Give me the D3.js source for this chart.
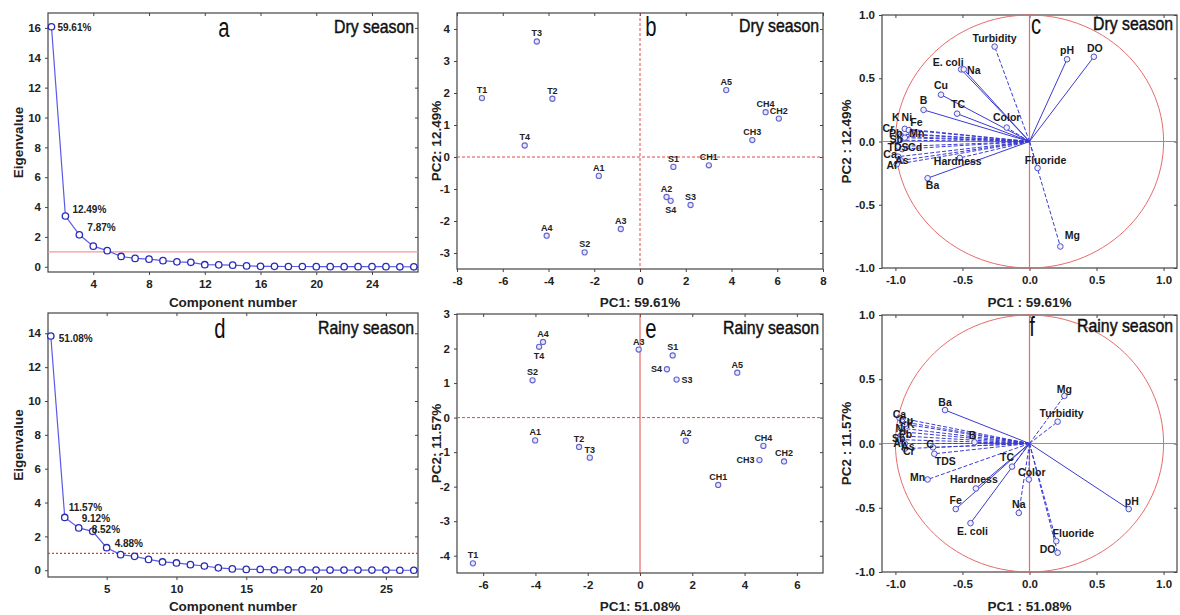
<!DOCTYPE html>
<html><head><meta charset="utf-8">
<script src="https://cdn.jsdelivr.net/npm/d3@7"></script>
<style>
body{margin:0;background:#fff}
svg{display:block}
text{font-family:"Liberation Sans",Arial,sans-serif}
</style>
</head><body>
<svg id="chart" width="1180" height="615"></svg>
<script>
// ---------------- DATA ----------------
const components = [1,2,3,4,5,6,7,8,9,10,11,12,13,14,15,16,17,18,19,20,21,22,23,24,25,26,27];
const dryEigen   = [16.08,3.40,2.14,1.38,1.08,0.69,0.56,0.51,0.41,0.33,0.30,0.14,0.13,0.11,0.06,0.03,0.03,0.02,0.02,0.01,0.01,0.01,0.01,0.01,0.01,0.00,0.00];
const rainyEigen = [13.84,3.12,2.50,2.30,1.33,0.92,0.82,0.64,0.49,0.43,0.33,0.25,0.14,0.08,0.05,0.05,0.02,0.02,0.02,0.01,0.01,0.01,0.01,0.01,0.01,0.00,0.00];
const dryExplained   = ["59.61%","12.49%","7.87%"];
const rainyExplained = ["51.08%","11.57%","9.12%","8.52%","4.88%"];

const sites    = ["T1","T2","T3","T4","A1","A2","A3","A4","A5","S1","S2","S3","S4","CH1","CH2","CH3","CH4"];
const dryPC1   = [-6.91,-3.83,-4.51,-5.04,-1.80,1.16,-0.84,-4.08,3.77,1.46,-2.42,2.21,1.34,3.01,6.07,4.91,5.49];
const dryPC2   = [1.84,1.82,3.61,0.36,-0.59,-1.25,-2.25,-2.46,2.09,-0.31,-2.98,-1.50,-1.37,-0.26,1.20,0.53,1.40];
const rainyPC1 = [-6.39,-2.33,-1.92,-3.86,-4.01,1.75,-0.05,-3.71,3.72,1.25,-4.11,1.40,1.03,2.99,5.51,4.57,4.72];
const rainyPC2 = [-4.22,-0.85,-1.16,2.05,-0.66,-0.67,1.97,2.19,1.30,1.80,1.08,1.10,1.40,-1.95,-1.27,-1.23,-0.82];

const dryVars  = ["Turbidity","pH","DO","E. coli","Na","Cu","B","TC","Color","K","Ni","Fe","Cr","Pb","Mn","Sb","TDS","Cd","Ca","As","Al","Hardness","Ba","Fluoride","Mg"];
const dryLoad1 = [-0.26,0.28,0.48,-0.51,-0.49,-0.66,-0.79,-0.54,-0.17,-0.93,-0.90,-0.88,-0.97,-0.96,-0.93,-0.98,-0.98,-0.95,-0.98,-0.96,-0.99,-0.52,-0.76,0.06,0.23];
const dryLoad2 = [0.75,0.65,0.67,0.57,0.57,0.37,0.25,0.22,0.11,0.10,0.09,0.06,0.06,0.04,0.03,0.01,-0.04,-0.06,-0.12,-0.15,-0.18,-0.13,-0.29,-0.21,-0.83];

const rainyVars  = ["Mg","Turbidity","Ba","B","C","TDS","TC","Mn","Hardness","Color","Fe","Na","E. coli","Fluoride","DO","pH","Ca","Cu","K","Ni","Pb","Sb","Al","As","Cr"];
const rainyLoad1 = [0.26,0.21,-0.63,-0.41,-0.72,-0.71,-0.13,-0.76,-0.40,-0.005,-0.55,-0.08,-0.44,0.20,0.21,0.74,-0.97,-0.95,-0.93,-0.96,-0.94,-0.96,-0.97,-0.93,-0.93];
const rainyLoad2 = [0.37,0.17,0.26,0.01,-0.03,-0.08,-0.18,-0.28,-0.35,-0.28,-0.51,-0.54,-0.62,-0.76,-0.85,-0.51,0.20,0.17,0.15,0.12,0.09,0.06,0.03,0.00,-0.04];

const screeYTicksDry   = [0,2,4,6,8,10,12,14,16];
const screeXTicksDry   = [4,8,12,16,20,24];
const screeYTicksRainy = [0,2,4,6,8,10,12,14];
const screeXTicksRainy = [5,10,15,20,25];
const scoreXTicksDry   = [-8,-6,-4,-2,0,2,4,6,8];
const scoreYTicksDry   = [-3,-2,-1,0,1,2,3,4];
const scoreXTicksRainy = [-6,-4,-2,0,2,4,6];
const scoreYTicksRainy = [-4,-3,-2,-1,0,1,2,3];
const loadTicks        = [-1,-0.5,0,0.5,1];

// ---------------- LAYOUT / STYLE ----------------
const svg = d3.select("#chart");
const BLUE = "#3a3ad2", PT = "#2a2ab8", RED = "#e04848";
const intFmt = d => String(d);
const decFmt = d => d.toFixed(1);

function panel(box, xDom, yDom, xTicks, yTicks, fmt) {
  const x = d3.scaleLinear().domain(xDom).range([box.l, box.r]);
  const y = d3.scaleLinear().domain(yDom).range([box.b, box.t]);
  const g = svg.append("g");
  const axStyle = sel => {
    sel.select(".domain").remove();
    sel.selectAll("line").attr("stroke", "#444");
    sel.selectAll("text").attr("font-size", 11.5).attr("font-weight", "bold").attr("fill", "#222")
      .style("font-family", '"Liberation Sans", Arial, sans-serif');
  };
  g.append("g").attr("transform", `translate(0,${box.b})`)
    .call(d3.axisBottom(x).tickValues(xTicks).tickSize(3).tickPadding(5).tickFormat(fmt)).call(axStyle);
  g.append("g").attr("transform", `translate(${box.l},0)`)
    .call(d3.axisLeft(y).tickValues(yTicks).tickSize(3).tickPadding(4).tickFormat(fmt)).call(axStyle);
  g.append("g").attr("transform", `translate(0,${box.t})`)
    .call(d3.axisTop(x).tickValues(xTicks).tickSize(-3).tickFormat("")).call(axStyle);
  g.append("g").attr("transform", `translate(${box.r},0)`)
    .call(d3.axisRight(y).tickValues(yTicks).tickSize(-3).tickFormat("")).call(axStyle);
  g.append("rect").attr("x", box.l).attr("y", box.t).attr("width", box.r - box.l).attr("height", box.b - box.t)
    .attr("fill", "none").attr("stroke", "#444").attr("stroke-width", 1.2);
  return {x, y, g, box};
}

// condensed-looking titles: text scaled horizontally
function titles(p, letter, letterX, season, baseY, xTitle, xTitleY, yTitle, yTitleX) {
  const b = p.box;
  p.g.append("text").attr("transform", `translate(${letterX},${baseY + 4}) scale(0.75,1)`)
    .attr("text-anchor", "middle").attr("font-size", 27).attr("fill", "#111").text(letter);
  p.g.append("text").attr("transform", `translate(${b.r - 4},${baseY}) scale(0.88,1)`)
    .attr("text-anchor", "end").attr("font-size", 18)
    .attr("fill", "#111").attr("stroke", "#111").attr("stroke-width", 0.45).text(season);
  p.g.append("text").attr("x", (b.l + b.r) / 2).attr("y", xTitleY).attr("text-anchor", "middle")
    .attr("dominant-baseline", "central").attr("font-size", 13.5).attr("font-weight", "bold")
    .attr("fill", "#222").text(xTitle);
  p.g.append("text").attr("transform", `translate(${yTitleX},${(b.t + b.b) / 2}) rotate(-90)`)
    .attr("text-anchor", "middle").attr("dominant-baseline", "central").attr("font-size", 13.5)
    .attr("font-weight", "bold").attr("fill", "#222").text(yTitle);
}

// ---------- Scree plots ----------
function scree(box, eig, pct, pctOffsets, xDom, yDom, xT, yT, refDash, refColor) {
  const p = panel(box, xDom, yDom, xT, yT, intFmt);
  p.g.append("line").attr("x1", box.l).attr("x2", box.r).attr("y1", p.y(1)).attr("y2", p.y(1))
    .attr("stroke", refColor).attr("stroke-width", 1.2).attr("stroke-dasharray", refDash);
  const line = d3.line().x((d, i) => p.x(components[i])).y(d => p.y(d));
  p.g.append("path").datum(eig).attr("d", line).attr("fill", "none").attr("stroke", "#5a5ae6").attr("stroke-width", 1.2);
  p.g.selectAll(".pt").data(eig).enter().append("circle")
    .attr("cx", (d, i) => p.x(components[i])).attr("cy", d => p.y(d)).attr("r", 3.2)
    .attr("fill", "#fff").attr("stroke", PT).attr("stroke-width", 1.3);
  p.g.selectAll(".pl").data(pct).enter().append("text")
    .attr("x", (d, i) => p.x(components[i]) + pctOffsets[i][0])
    .attr("y", (d, i) => p.y(eig[i]) + pctOffsets[i][1])
    .attr("dominant-baseline", "central").attr("font-size", 10).attr("font-weight", "bold")
    .attr("fill", "#222").text(d => d);
  return p;
}

const pa = scree({l: 48, r: 418, t: 13, b: 272}, dryEigen, dryExplained,
  [[6, 1], [7, -7], [8, -7]], [0.75, 27.3], [-0.35, 17.0], screeXTicksDry, screeYTicksDry, null, "#f29a9a");
titles(pa, "a", 224, "Dry season", 33, "Component number", 302, "Eigenvalue", 18);

const pd = scree({l: 48, r: 418, t: 313, b: 577}, rainyEigen, rainyExplained,
  [[8, 2], [4, -10], [3, -9], [-1, -2], [8, -4]], [0.8, 27.3], [-0.4, 15.2], screeXTicksRainy, screeYTicksRainy, "2,2", "#ee3535");
titles(pd, "d", 220, "Rainy season", 334, "Component number", 606, "Eigenvalue", 18);

// ---------- Score plots ----------
function scores(box, pc1, pc2, xDom, yDom, xT, yT, vDash, labelPos) {
  const p = panel(box, xDom, yDom, xT, yT, intFmt);
  p.g.append("line").attr("x1", box.l).attr("x2", box.r).attr("y1", p.y(0)).attr("y2", p.y(0))
    .attr("stroke", RED).attr("stroke-width", 1).attr("stroke-dasharray", "3,2");
  p.g.append("line").attr("x1", p.x(0)).attr("x2", p.x(0)).attr("y1", box.t).attr("y2", box.b)
    .attr("stroke", RED).attr("stroke-width", 1).attr("stroke-dasharray", vDash);
  p.g.selectAll(".sp").data(sites).enter().append("circle")
    .attr("cx", (d, i) => p.x(pc1[i])).attr("cy", (d, i) => p.y(pc2[i])).attr("r", 2.6)
    .attr("fill", "#e6e6ff").attr("stroke", "#6464cc").attr("stroke-width", 1.1);
  const pos = {above: [0, -8, "middle"], below: [0, 9, "middle"], left: [-5, 0, "end"], right: [5, 0, "start"]};
  p.g.selectAll(".sl").data(sites).enter().append("text")
    .each(function (d, i) {
      const q = pos[labelPos[d] || "above"];
      d3.select(this).attr("x", p.x(pc1[i]) + q[0]).attr("y", p.y(pc2[i]) + q[1]).attr("text-anchor", q[2]);
    })
    .attr("dominant-baseline", "central").attr("font-size", 9).attr("font-weight", "bold")
    .attr("fill", "#222").text(d => d);
  return p;
}

const pb = scores({l: 457, r: 823, t: 13, b: 269}, dryPC1, dryPC2, [-8, 8], [-3.5, 4.5],
  scoreXTicksDry, scoreYTicksDry, "3,2", {S4: "below"});
titles(pb, "b", 651, "Dry season", 32, "PC1: 59.61%", 302, "PC2: 12.49%", 436);

const pe = scores({l: 457, r: 823, t: 314, b: 573}, rainyPC1, rainyPC2, [-7, 7], [-4.5, 3],
  scoreXTicksRainy, scoreYTicksRainy, null, {T4: "below", S4: "left", S3: "right", CH3: "left"});
titles(pe, "e", 651, "Rainy season", 334, "PC1: 51.08%", 606, "PC2: 11.57%", 436);

// ---------- Loading plots ----------
function loadings(box, vars, l1, l2, offsets, dashed) {
  const p = panel(box, [-1.1, 1.1], [-1, 1], loadTicks, loadTicks, decFmt);
  const circ = d3.range(0, 361, 3).map(a => [Math.cos(a * Math.PI / 180), Math.sin(a * Math.PI / 180)]);
  p.g.append("path").datum(circ).attr("d", d3.line().x(d => p.x(d[0])).y(d => p.y(d[1])))
    .attr("fill", "none").attr("stroke", "#e86a6a").attr("stroke-width", 1);
  p.g.append("line").attr("x1", box.l).attr("x2", box.r).attr("y1", p.y(0)).attr("y2", p.y(0))
    .attr("stroke", "#e86a6a").attr("stroke-width", 1);
  p.g.append("line").attr("x1", p.x(0)).attr("x2", p.x(0)).attr("y1", box.t).attr("y2", box.b)
    .attr("stroke", "#e86a6a").attr("stroke-width", 1.2);
  p.g.selectAll(".ll").data(vars).enter().append("line")
    .attr("x1", p.x(0)).attr("y1", p.y(0))
    .attr("x2", (d, i) => p.x(l1[i])).attr("y2", (d, i) => p.y(l2[i]))
    .attr("stroke", BLUE).attr("stroke-width", 1)
    .attr("stroke-dasharray", d => dashed.includes(d) ? "4,2" : null);
  p.g.selectAll(".lp").data(vars).enter().append("circle")
    .attr("cx", (d, i) => p.x(l1[i])).attr("cy", (d, i) => p.y(l2[i])).attr("r", 2.8)
    .attr("fill", "#eef").attr("stroke", "#5050c8").attr("stroke-width", 1);
  p.g.selectAll(".lt").data(vars).enter().append("text")
    .attr("x", (d, i) => p.x(l1[i]) + (offsets[d] || [0, -9])[0])
    .attr("y", (d, i) => p.y(l2[i]) + (offsets[d] || [0, -9])[1])
    .attr("text-anchor", "middle").attr("dominant-baseline", "central")
    .attr("font-size", 10.5).attr("font-weight", "bold").attr("fill", "#1a1a1a").text(d => d);
  return p;
}

const pc = loadings({l: 882, r: 1177, t: 15, b: 268}, dryVars, dryLoad1, dryLoad2, {
  "Turbidity": [0, -9], "pH": [0, -9], "DO": [1, -9], "E. coli": [-13, -7], "Na": [10, 1],
  "Cu": [0, -10], "B": [0, -10], "TC": [1, -10], "Color": [0, -11],
  "K": [-9, -12], "Ni": [-2, -13], "Fe": [5, -12], "Cr": [-11, -6], "Pb": [-5, -3], "Mn": [12, -5],
  "Sb": [-2, -1], "TDS": [0, 0], "Cd": [13, -2], "Ca": [-8, -3], "As": [1, 0], "Al": [-5, 1],
  "Hardness": [-2, 3], "Ba": [5, 7], "Fluoride": [8, -8], "Mg": [12, -11]
}, ["Turbidity", "Color", "K", "Ni", "Fe", "Cr", "Pb", "Mn", "Sb", "TDS", "Cd", "Ca", "As", "Al", "Hardness", "Mg", "Fluoride"]);
titles(pc, "c", 1036, "Dry season", 30, "PC1 : 59.61%", 302, "PC2 : 12.49%", 846);

const pf = loadings({l: 882, r: 1177, t: 315, b: 572}, rainyVars, rainyLoad1, rainyLoad2, {
  "Mg": [0, -7], "Turbidity": [4, -9], "Ba": [0, -8], "B": [-2, -7], "C": [-3, -3], "TDS": [11, 7],
  "TC": [-5, -10], "Mn": [-10, -2], "Hardness": [-2, -9], "Color": [3, -7], "Fe": [0, -9], "Na": [0, -9],
  "E. coli": [2, 8], "Fluoride": [17, -8], "DO": [-10, -4], "pH": [3, -8],
  "Ca": [0, -4], "Cu": [4, -2], "K": [6, 0], "Ni": [0, 0], "Pb": [2, 2], "Sb": [-2, 2], "Al": [-1, 3], "As": [3, 2], "Cr": [4, 2]
}, ["Mg", "Turbidity", "Mn", "TC", "Color", "Na", "Fluoride", "DO", "B", "C", "TDS", "Ca", "Cu", "K", "Ni", "Pb", "Sb", "Al", "As", "Cr"]);
titles(pf, "f", 1032, "Rainy season", 332, "PC1 : 51.08%", 606, "PC2 : 11.57%", 846);
</script>
</body></html>
